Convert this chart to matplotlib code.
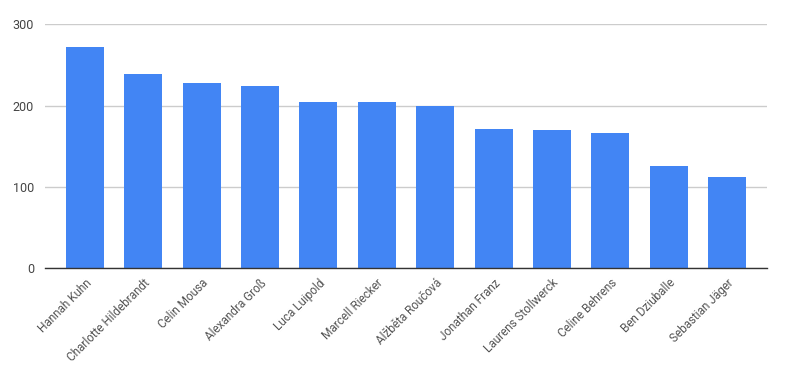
import matplotlib
matplotlib.use("Agg")
import matplotlib.pyplot as plt

names = ["Hannah Kuhn", "Charlotte Hildebrandt", "Celin Mousa", "Alexandra Groß",
         "Luca Luipold", "Marcell Riecker", "Alžběta Roučová", "Jonathan Franz",
         "Laurens Stollwerck", "Celine Behrens", "Ben Dziuballe", "Sebastian Jäger"]
values = [272, 239, 228, 224, 205, 204, 199, 171, 170, 166, 126, 112]
yticks = [0, 100, 200, 300]

plt.rcParams['font.family'] = ['Roboto', 'DejaVu Sans']

fig = plt.figure(figsize=(7.86, 3.78), dpi=100)
W, H = 786, 378
ax = fig.add_axes([45 / W, 1 - 268.3 / H, (767 - 45) / W, (268.3 - 24.3) / H])

x = list(range(len(names)))
ax.bar(x, values, width=0.65, color="#4285f4", zorder=3)
ax.set_xlim(-0.68, len(names) - 1 + 0.68)
ax.set_ylim(0, 300)
ax.set_yticks(yticks)
ax.set_yticklabels([str(t) for t in yticks], fontsize=9, color="#444444")
ax.yaxis.grid(True, color="#cccccc", linewidth=1, zorder=0)
ax.set_xticks(x)
ax.set_xticklabels(names, rotation=45, ha="right", rotation_mode="anchor",
                   fontsize=8.5, color="#555555")
ax.tick_params(axis="both", length=0, pad=8)
ax.tick_params(axis="x", pad=6)
for s in ["top", "right", "left"]:
    ax.spines[s].set_visible(False)
ax.spines["bottom"].set_color("#333333")
ax.spines["bottom"].set_linewidth(1)
ax.spines["bottom"].set_zorder(4)

fig.savefig("out.png", dpi=100)
